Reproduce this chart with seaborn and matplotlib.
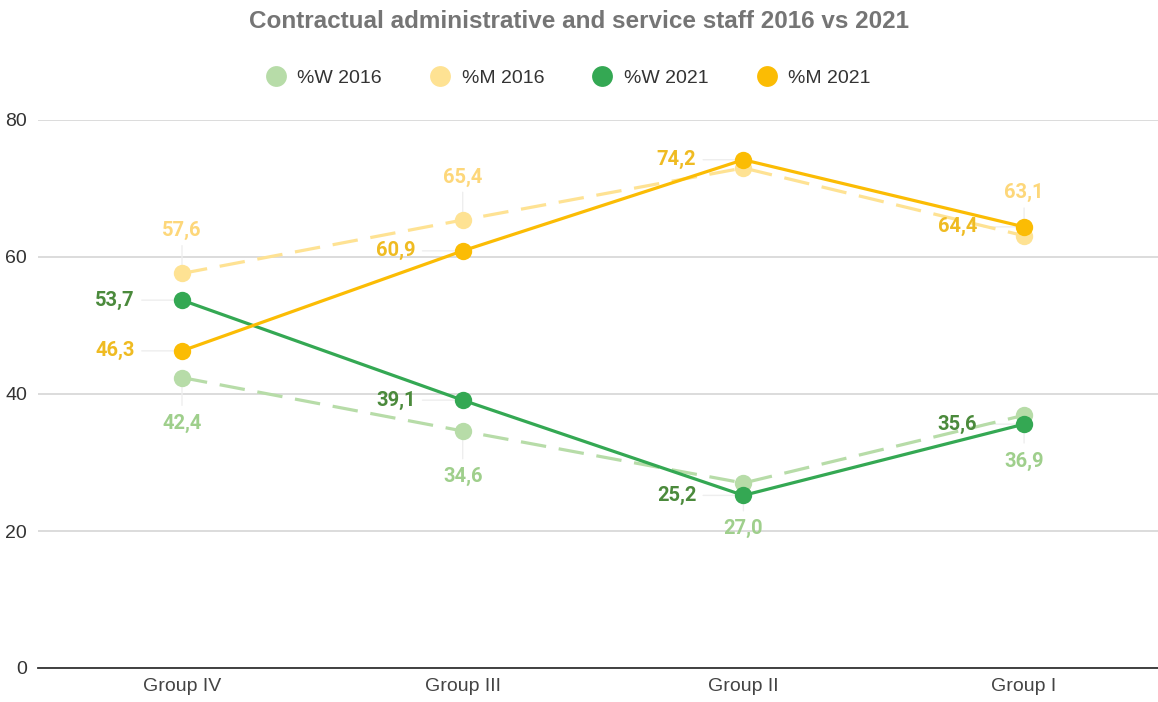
import matplotlib
matplotlib.use("Agg")
import matplotlib.pyplot as plt
from matplotlib.lines import Line2D
import pandas as pd
import seaborn as sns

groups = ["Group IV", "Group III", "Group II", "Group I"]
w_2016 = [42.4, 34.6, 27.0, 36.9]
m_2016 = [57.6, 65.4, 73.0, 63.1]
w_2021 = [53.7, 39.1, 25.2, 35.6]
m_2021 = [46.3, 60.9, 74.2, 64.4]
series_names = ["%W 2016", "%M 2016", "%W 2021", "%M 2021"]
y_ticks = [0, 20, 40, 60, 80]

sns.set_theme(style="white")
plt.rcParams["font.family"] = ["Liberation Sans", "DejaVu Sans"]

fig = plt.figure(figsize=(11.58, 7.02), dpi=100)
ax = fig.add_axes([38 / 1158, 34 / 702, 1 - 38 / 1158, (668 - 120) / 702])

line_colors = ["#b7dca8", "#fee293", "#34a853", "#fbbc04"]
label_colors = ["#9fcf8c", "#fdd77a", "#4b8a3c", "#efbb22"]
dashed = [True, True, False, False]
# where each series puts its value labels: below, above, left, left
placement = ["below", "above", "left", "left"]
# Group II value for %M 2016 is left unlabelled (it sits on top of the 2021 label)
skip = {(1, 2)}
label_font = dict(fontsize=14.5, fontweight="bold", family=["Roboto", "DejaVu Sans"])

values = [w_2016, m_2016, w_2021, m_2021]
for i, (name, vals) in enumerate(zip(series_names, values)):
    df = pd.DataFrame({"group": groups, "value": vals})
    kw = dict(linestyle=(0, (8, 4))) if dashed[i] else dict(linestyle="-")
    sns.lineplot(data=df, x="group", y="value", ax=ax, color=line_colors[i],
                 linewidth=2.3, marker="o", markersize=12.5,
                 markeredgewidth=0, sort=False, zorder=3 + i, **kw)

    for j, v in enumerate(vals):
        if (i, j) in skip:
            continue
        txt = f"{v:.1f}".replace(".", ",")
        if placement[i] == "below":
            ax.annotate(txt, xy=(j, v), xytext=(0, -33), textcoords="offset points",
                        ha="center", va="center", color=label_colors[i],
                        zorder=10, **label_font)
            ax.annotate("", xy=(j, v), xytext=(0, -22), textcoords="offset points",
                        arrowprops=dict(arrowstyle="-", color="#eeeeee", lw=1),
                        zorder=1)
        elif placement[i] == "above":
            ax.annotate(txt, xy=(j, v), xytext=(0, 31), textcoords="offset points",
                        ha="center", va="center", color=label_colors[i],
                        zorder=10, **label_font)
            ax.annotate("", xy=(j, v), xytext=(0, 22), textcoords="offset points",
                        arrowprops=dict(arrowstyle="-", color="#eeeeee", lw=1),
                        zorder=1)
        else:
            ax.annotate(txt, xy=(j, v), xytext=(-34, 0), textcoords="offset points",
                        ha="right", va="center", color=label_colors[i],
                        zorder=10, **label_font)
            ax.annotate("", xy=(j, v), xytext=(-31, 0), textcoords="offset points",
                        arrowprops=dict(arrowstyle="-", color="#eeeeee", lw=1),
                        zorder=1)

ax.set_xlim(-0.513, 3.477)
ax.set_ylim(0, 80)
ax.set_yticks(y_ticks)
ax.set_yticklabels([str(t) for t in y_ticks])
ax.set_xlabel("")
ax.set_ylabel("")
ax.yaxis.grid(True, color="#d9d9d9", linewidth=1.3)
ax.xaxis.grid(False)
ax.set_axisbelow(True)
for s in ["top", "right", "left"]:
    ax.spines[s].set_visible(False)
ax.spines["bottom"].set_color("#333333")
ax.spines["bottom"].set_linewidth(1.3)
ax.spines["bottom"].set_zorder(2)
ax.tick_params(axis="y", length=0, pad=8, labelsize=14, labelcolor="#333333")
ax.tick_params(axis="x", length=0, pad=7, labelsize=14, labelcolor="#444444")
if ax.get_legend():
    ax.get_legend().remove()

fig.text(0.5, 1 - 21 / 702, "Contractual administrative and service staff 2016 vs 2021",
         ha="center", va="center", fontsize=17.5, fontweight="bold", color="#757575")

handles = [Line2D([], [], linestyle="none", marker="o", markersize=15,
                  markeredgewidth=0, color=c) for c in line_colors]
fig.legend(handles, series_names, loc="center", bbox_to_anchor=(0.49, 1 - 78 / 702),
           ncol=4, frameon=False, fontsize=14, labelcolor="#333333",
           handletextpad=0.5, columnspacing=2.4, handlelength=1.2)

fig.savefig("out.png", dpi=100)
